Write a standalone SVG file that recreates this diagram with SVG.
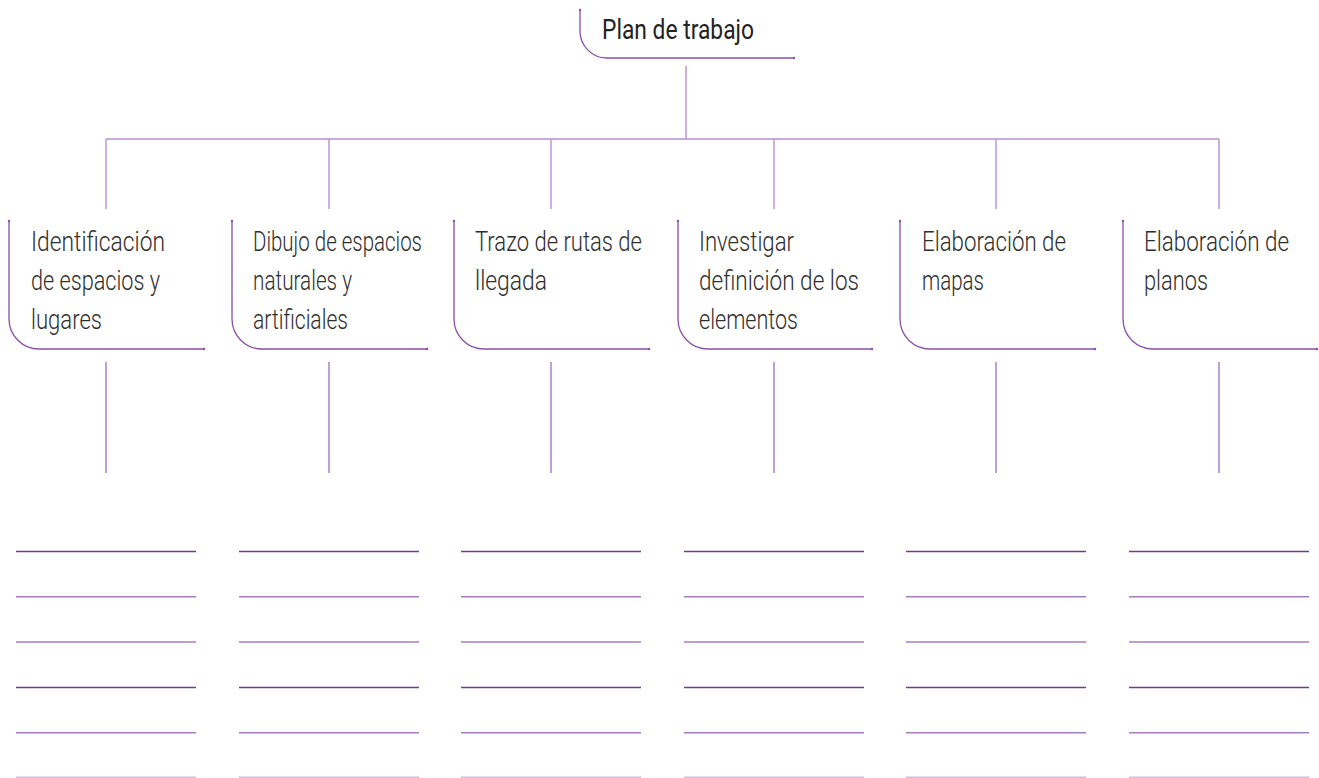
<svg xmlns="http://www.w3.org/2000/svg" width="1319" height="778" viewBox="0 0 1319 778">
<style>
.bg{fill:#ffffff}
.box{fill:none;stroke:#8a4fa8;stroke-width:1.3}
.dot{fill:#8a4fa8}
.conn{fill:none;stroke:#b88fcf;stroke-width:1.4}
.drop{fill:none;stroke:#a578c2;stroke-width:1.4}
.t{font-family:Roboto,"Liberation Sans",sans-serif;font-weight:300;font-size:28.5px;fill:#2e2e2e}
.title{font-family:Roboto,"Liberation Sans",sans-serif;font-weight:400;font-size:27.5px;fill:#222222}
.ld{stroke:#6e3d8b;stroke-width:1.4}
.lm{stroke:#a67cc4;stroke-width:1.6}
.ll{stroke:#cdbfd8;stroke-width:1.4}
</style>
<rect class="bg" x="0" y="0" width="1319" height="778"/>

<g id="connectors">
  <line class="conn" x1="686" y1="66" x2="686" y2="139"/>
  <line class="conn" x1="106" y1="139" x2="1219" y2="139"/>
  <line class="conn" x1="106" y1="139" x2="106" y2="209"/>
  <line class="conn" x1="329" y1="139" x2="329" y2="209"/>
  <line class="conn" x1="551" y1="139" x2="551" y2="209"/>
  <line class="conn" x1="774" y1="139" x2="774" y2="209"/>
  <line class="conn" x1="996" y1="139" x2="996" y2="209"/>
  <line class="conn" x1="1219" y1="139" x2="1219" y2="209"/>
  <line class="drop" x1="106" y1="362" x2="106" y2="473"/>
  <line class="drop" x1="329" y1="362" x2="329" y2="473"/>
  <line class="drop" x1="551" y1="362" x2="551" y2="473"/>
  <line class="drop" x1="774" y1="362" x2="774" y2="473"/>
  <line class="drop" x1="996" y1="362" x2="996" y2="473"/>
  <line class="drop" x1="1219" y1="362" x2="1219" y2="473"/>
</g>

<g id="title">
  <path class="box" d="M580,10 V31 A27,27 0 0 0 607,58 H794"/>
  <circle class="dot" cx="580" cy="10" r="1.2"/>
  <circle class="dot" cx="794" cy="58" r="1.2"/>
  <text class="title" x="602" y="39" textLength="152" lengthAdjust="spacingAndGlyphs">Plan de trabajo</text>
</g>

<g id="node1">
  <path class="box" d="M9,221 V319 A30,30 0 0 0 39,349 H204"/>
  <circle class="dot" cx="9" cy="221" r="1.2"/>
  <circle class="dot" cx="204" cy="349" r="1.2"/>
  <text class="t" x="31" y="251" textLength="134" lengthAdjust="spacingAndGlyphs">Identificación</text>
  <text class="t" x="31" y="290" textLength="129" lengthAdjust="spacingAndGlyphs">de espacios y</text>
  <text class="t" x="31" y="329" textLength="71" lengthAdjust="spacingAndGlyphs">lugares</text>
</g>

<g id="node2">
  <path class="box" d="M232,221 V319 A30,30 0 0 0 262,349 H427"/>
  <circle class="dot" cx="232" cy="221" r="1.2"/>
  <circle class="dot" cx="427" cy="349" r="1.2"/>
  <text class="t" x="253" y="251" textLength="169" lengthAdjust="spacingAndGlyphs">Dibujo de espacios</text>
  <text class="t" x="253" y="290" textLength="99" lengthAdjust="spacingAndGlyphs">naturales y</text>
  <text class="t" x="253" y="329" textLength="95" lengthAdjust="spacingAndGlyphs">artificiales</text>
</g>

<g id="node3">
  <path class="box" d="M454,221 V319 A30,30 0 0 0 484,349 H649"/>
  <circle class="dot" cx="454" cy="221" r="1.2"/>
  <circle class="dot" cx="649" cy="349" r="1.2"/>
  <text class="t" x="475" y="251" textLength="167" lengthAdjust="spacingAndGlyphs">Trazo de rutas de</text>
  <text class="t" x="475" y="290" textLength="72" lengthAdjust="spacingAndGlyphs">llegada</text>
</g>

<g id="node4">
  <path class="box" d="M678,221 V319 A30,30 0 0 0 708,349 H872"/>
  <circle class="dot" cx="678" cy="221" r="1.2"/>
  <circle class="dot" cx="872" cy="349" r="1.2"/>
  <text class="t" x="699" y="251" textLength="95" lengthAdjust="spacingAndGlyphs">Investigar</text>
  <text class="t" x="699" y="290" textLength="160" lengthAdjust="spacingAndGlyphs">definición de los</text>
  <text class="t" x="699" y="329" textLength="99" lengthAdjust="spacingAndGlyphs">elementos</text>
</g>

<g id="node5">
  <path class="box" d="M900,221 V319 A30,30 0 0 0 930,349 H1095"/>
  <circle class="dot" cx="900" cy="221" r="1.2"/>
  <circle class="dot" cx="1095" cy="349" r="1.2"/>
  <text class="t" x="922" y="251" textLength="144" lengthAdjust="spacingAndGlyphs">Elaboración de</text>
  <text class="t" x="922" y="290" textLength="62" lengthAdjust="spacingAndGlyphs">mapas</text>
</g>

<g id="node6">
  <path class="box" d="M1123,221 V319 A30,30 0 0 0 1153,349 H1317"/>
  <circle class="dot" cx="1123" cy="221" r="1.2"/>
  <circle class="dot" cx="1317" cy="349" r="1.2"/>
  <g transform="translate(1144,0) scale(0.76,1)">
    <text class="t" x="0" y="251" textLength="190.8" lengthAdjust="spacingAndGlyphs">Elaboración de</text>
    <text class="t" x="0" y="290" textLength="84.2" lengthAdjust="spacingAndGlyphs">planos</text>
  </g>
</g>

<g id="writing-lines">
  <g id="lines1">
    <line class="ld" x1="16" y1="551.5" x2="196" y2="551.5"/>
    <line class="lm" x1="16" y1="596.7" x2="196" y2="596.7"/>
    <line class="lm" x1="16" y1="642" x2="196" y2="642"/>
    <line class="ld" x1="16" y1="687.5" x2="196" y2="687.5"/>
    <line class="lm" x1="16" y1="732.7" x2="196" y2="732.7"/>
    <line class="ll" x1="16" y1="777.3" x2="196" y2="777.3"/>
  </g>
  <g id="lines2">
    <line class="ld" x1="239" y1="551.5" x2="419" y2="551.5"/>
    <line class="lm" x1="239" y1="596.7" x2="419" y2="596.7"/>
    <line class="lm" x1="239" y1="642" x2="419" y2="642"/>
    <line class="ld" x1="239" y1="687.5" x2="419" y2="687.5"/>
    <line class="lm" x1="239" y1="732.7" x2="419" y2="732.7"/>
    <line class="ll" x1="239" y1="777.3" x2="419" y2="777.3"/>
  </g>
  <g id="lines3">
    <line class="ld" x1="461" y1="551.5" x2="641" y2="551.5"/>
    <line class="lm" x1="461" y1="596.7" x2="641" y2="596.7"/>
    <line class="lm" x1="461" y1="642" x2="641" y2="642"/>
    <line class="ld" x1="461" y1="687.5" x2="641" y2="687.5"/>
    <line class="lm" x1="461" y1="732.7" x2="641" y2="732.7"/>
    <line class="ll" x1="461" y1="777.3" x2="641" y2="777.3"/>
  </g>
  <g id="lines4">
    <line class="ld" x1="684" y1="551.5" x2="864" y2="551.5"/>
    <line class="lm" x1="684" y1="596.7" x2="864" y2="596.7"/>
    <line class="lm" x1="684" y1="642" x2="864" y2="642"/>
    <line class="ld" x1="684" y1="687.5" x2="864" y2="687.5"/>
    <line class="lm" x1="684" y1="732.7" x2="864" y2="732.7"/>
    <line class="ll" x1="684" y1="777.3" x2="864" y2="777.3"/>
  </g>
  <g id="lines5">
    <line class="ld" x1="906" y1="551.5" x2="1086" y2="551.5"/>
    <line class="lm" x1="906" y1="596.7" x2="1086" y2="596.7"/>
    <line class="lm" x1="906" y1="642" x2="1086" y2="642"/>
    <line class="ld" x1="906" y1="687.5" x2="1086" y2="687.5"/>
    <line class="lm" x1="906" y1="732.7" x2="1086" y2="732.7"/>
    <line class="ll" x1="906" y1="777.3" x2="1086" y2="777.3"/>
  </g>
  <g id="lines6">
    <line class="ld" x1="1129" y1="551.5" x2="1309" y2="551.5"/>
    <line class="lm" x1="1129" y1="596.7" x2="1309" y2="596.7"/>
    <line class="lm" x1="1129" y1="642" x2="1309" y2="642"/>
    <line class="ld" x1="1129" y1="687.5" x2="1309" y2="687.5"/>
    <line class="lm" x1="1129" y1="732.7" x2="1309" y2="732.7"/>
    <line class="ll" x1="1129" y1="777.3" x2="1309" y2="777.3"/>
  </g>
</g>
</svg>
